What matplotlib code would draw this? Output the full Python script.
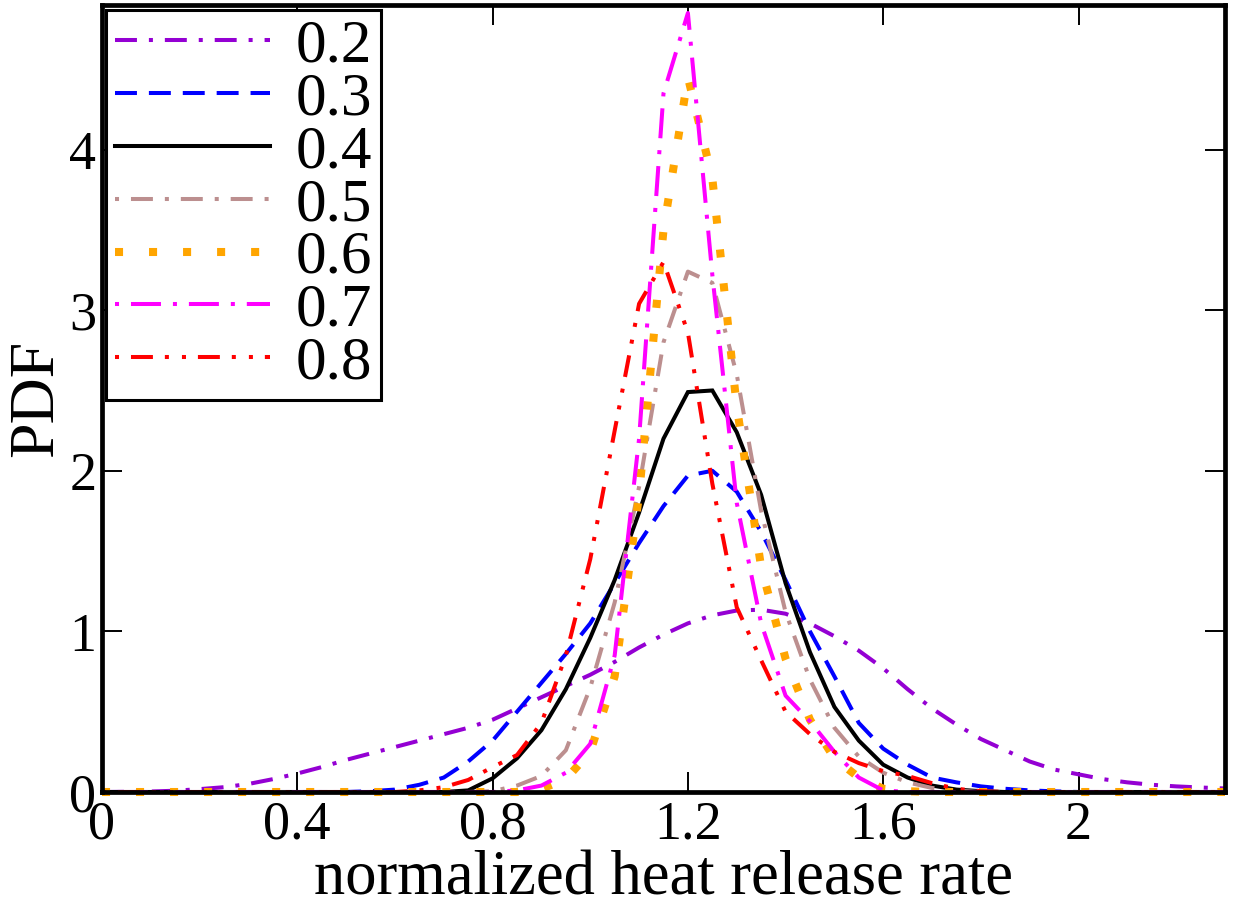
import matplotlib
matplotlib.use("Agg")
import matplotlib.pyplot as plt

plt.rcParams['font.family'] = ['Liberation Serif', 'DejaVu Serif']
plt.rcParams['lines.scale_dashes'] = False

labels = ["0.2", "0.3", "0.4", "0.5", "0.6", "0.7", "0.8"]

x_02 = [0.0, 0.05, 0.1, 0.15, 0.2, 0.25, 0.3, 0.35, 0.4, 0.45, 0.5, 0.55, 0.6, 0.65,
        0.7, 0.75, 0.8, 0.85, 0.9, 0.95, 1.0, 1.05, 1.1, 1.15, 1.2, 1.25, 1.3, 1.35,
        1.4, 1.45, 1.5, 1.55, 1.6, 1.65, 1.7, 1.75, 1.8, 1.85, 1.9, 1.95, 2.0, 2.05,
        2.1, 2.15, 2.2, 2.25, 2.3]
y_02 = [0.0, 0.001, 0.003, 0.008, 0.018, 0.03, 0.05, 0.08, 0.115, 0.155, 0.2, 0.24, 0.28, 0.32,
        0.36, 0.40, 0.45, 0.52, 0.59, 0.66, 0.73, 0.81, 0.9, 0.98, 1.05, 1.1, 1.13, 1.135,
        1.11, 1.05, 0.97, 0.88, 0.77, 0.64, 0.52, 0.42, 0.33, 0.26, 0.19, 0.14, 0.11, 0.08,
        0.06, 0.045, 0.035, 0.028, 0.022]

x_03 = [0.0, 0.5, 0.55, 0.6, 0.65, 0.7, 0.75, 0.8, 0.85, 0.9, 0.95, 1.0, 1.05, 1.1, 1.15,
        1.2, 1.25, 1.3, 1.35, 1.4, 1.45, 1.5, 1.55, 1.6, 1.65, 1.7, 1.75, 1.8, 1.85, 1.9,
        1.95, 2.0, 2.3]
y_03 = [0.0, 0.0, 0.005, 0.015, 0.045, 0.09, 0.19, 0.32, 0.5, 0.68, 0.86, 1.05, 1.3, 1.55, 1.78,
        1.97, 2.0, 1.87, 1.62, 1.32, 1.0, 0.72, 0.43, 0.27, 0.17, 0.09, 0.06, 0.035, 0.02, 0.01,
        0.004, 0.0, 0.0]

x_04 = [0.0, 0.7, 0.75, 0.8, 0.85, 0.9, 0.95, 1.0, 1.05, 1.1, 1.15, 1.2, 1.25, 1.3, 1.35,
        1.4, 1.45, 1.5, 1.55, 1.6, 1.65, 1.7, 1.75, 1.8, 1.85, 2.3]
y_04 = [0.0, 0.0, 0.01, 0.085, 0.21, 0.385, 0.64, 0.96, 1.32, 1.74, 2.2, 2.49, 2.5, 2.24, 1.85,
        1.30, 0.87, 0.53, 0.32, 0.17, 0.09, 0.04, 0.015, 0.005, 0.0, 0.0]

x_05 = [0.0, 0.75, 0.8, 0.85, 0.9, 0.95, 1.0, 1.05, 1.1, 1.15, 1.2, 1.25, 1.3, 1.35, 1.4,
        1.45, 1.5, 1.55, 1.6, 1.65, 1.7, 1.75, 1.8, 2.3]
y_05 = [0.0, 0.0, 0.005, 0.04, 0.1, 0.26, 0.65, 1.18, 1.9, 2.8, 3.24, 3.17, 2.6, 1.75, 1.12,
        0.7, 0.4, 0.22, 0.12, 0.06, 0.025, 0.008, 0.0, 0.0]

x_06 = [0.0, 0.85, 0.9, 0.95, 1.0, 1.05, 1.1, 1.15, 1.2, 1.25, 1.3, 1.35, 1.4, 1.45, 1.5,
        1.55, 1.6, 1.65, 1.7, 2.3]
y_06 = [0.0, 0.0, 0.02, 0.08, 0.25, 0.72, 1.85, 3.5, 4.45, 3.82, 2.4, 1.40, 0.83, 0.45, 0.21,
        0.09, 0.02, 0.005, 0.0, 0.0]

x_07 = [0.0, 0.8, 0.85, 0.9, 0.95, 1.0, 1.05, 1.1, 1.15, 1.2, 1.25, 1.3, 1.35, 1.4, 1.45,
        1.5, 1.55, 1.6, 1.65, 2.3]
y_07 = [0.0, 0.0, 0.01, 0.04, 0.12, 0.30, 0.85, 2.2, 4.35, 4.85, 3.22, 1.8, 1.05, 0.6, 0.44,
        0.25, 0.09, 0.01, 0.0, 0.0]

x_08 = [0.0, 0.6, 0.65, 0.7, 0.75, 0.8, 0.85, 0.9, 0.95, 1.0, 1.05, 1.1, 1.15, 1.2, 1.25,
        1.3, 1.35, 1.4, 1.45, 1.5, 1.55, 1.6, 1.65, 1.7, 1.75, 1.8, 1.85, 2.3]
y_08 = [0.0, 0.0, 0.01, 0.03, 0.075, 0.155, 0.23, 0.43, 0.85, 1.45, 2.25, 3.04, 3.30, 2.86, 1.92,
        1.15, 0.82, 0.5, 0.36, 0.25, 0.18, 0.13, 0.10, 0.055, 0.02, 0.005, 0.0, 0.0]

xticks = [0, 0.4, 0.8, 1.2, 1.6, 2.0]
xtick_labels = ["0", "0.4", "0.8", "1.2", "1.6", "2"]
yticks = [0, 1, 2, 3, 4]
ytick_labels = ["0", "1", "2", "3", "4"]

series = [
    (x_02, y_02, '#9400D3', 2.9, (0, (15.8, 8.6, 2.9, 8.6))),
    (x_03, y_03, '#0000FF', 2.9, (0, (15.8, 8.6))),
    (x_04, y_04, '#000000', 2.9, '-'),
    (x_05, y_05, '#BC8F8F', 2.9, (0, (2.9, 8.6, 15.8, 8.6))),
    (x_06, y_06, '#FFA500', 5.8, (0, (5.8, 18.7))),
    (x_07, y_07, '#FF00FF', 2.9, (0, (2.9, 8.6, 21.6, 8.6))),
    (x_08, y_08, '#FF0000', 2.9, (0, (2.9, 8.6, 15.8, 8.6, 2.9, 9.4))),
]

fig = plt.figure(figsize=(12.4, 9.09), dpi=100)
ax = fig.add_axes([102 / 1240, 1 - 792 / 909, (1225 - 102) / 1240, (792 - 5) / 909])

for (xs, ys, col, lw, ls), lab in zip(series, labels):
    ax.plot(xs, ys, color=col, lw=lw, linestyle=ls, label=lab, clip_on=False,
            solid_joinstyle='miter')

ax.set_xlim(0, 2.3)
ax.set_ylim(0, 4.9)
ax.set_xticks(xticks)
ax.set_xticklabels(xtick_labels)
ax.set_yticks(yticks)
ax.set_yticklabels(ytick_labels)
ax.tick_params(axis='both', which='major', direction='in', length=14.4, width=1.4,
               labelsize=39, top=True, right=True, pad=4)
ax.tick_params(axis='x', pad=6)
for sp in ax.spines.values():
    sp.set_linewidth(3.4)

ax.set_xlabel("normalized heat release rate", fontsize=45, labelpad=0)
ax.set_ylabel("PDF", fontsize=46, labelpad=2)

leg = ax.legend(loc='upper left', bbox_to_anchor=(106 / 1240, 1 - 10 / 909),
                bbox_transform=fig.transFigure, borderaxespad=0, fontsize=44,
                handlelength=2.55, handletextpad=0.42, labelspacing=-0.047,
                borderpad=0.14, fancybox=False, framealpha=1, edgecolor='black')
leg.get_frame().set_linewidth(2.2)

fig.savefig("out.png", dpi=100)
